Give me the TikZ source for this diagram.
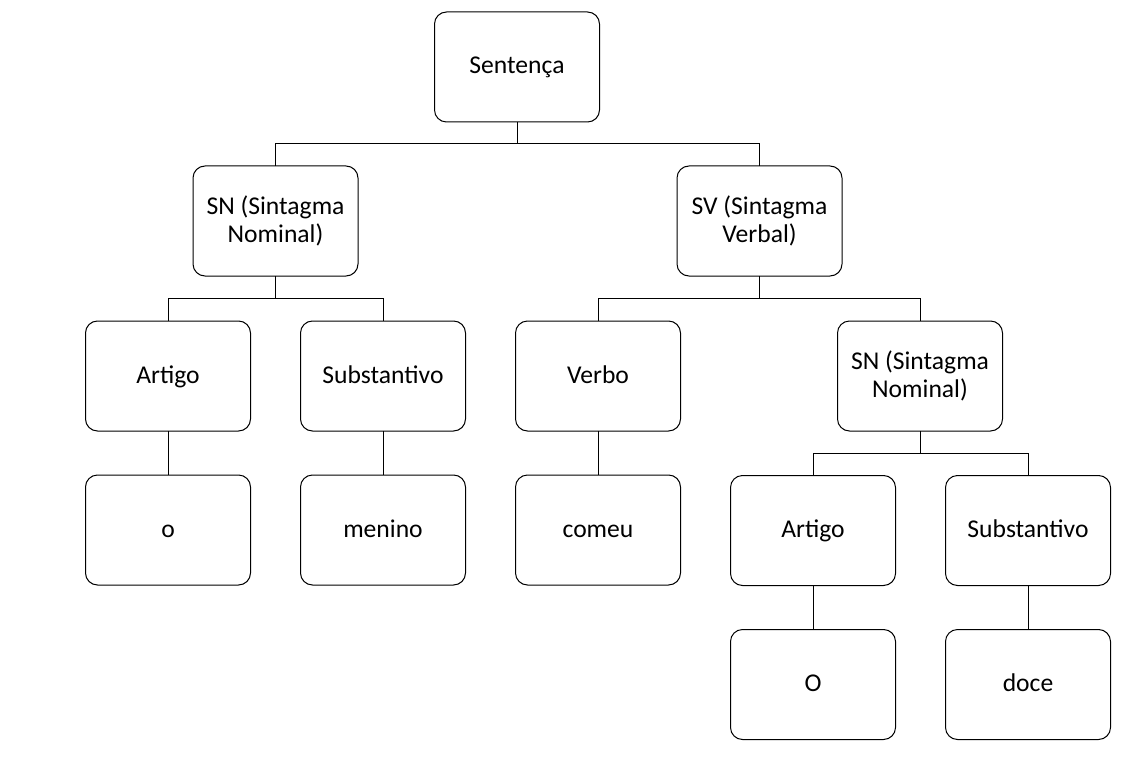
\documentclass[tikz,border=0pt]{standalone}
\usepackage{fontspec}
\setmainfont{Carlito}
\usepackage{tikz}
\usetikzlibrary{positioning}

\begin{document}
\begin{tikzpicture}[%
	x=1pt, y=1pt,
	base/.style={draw=black, line width=1pt, align=center, outer sep=0pt,
		minimum width=165pt, minimum height=110pt, inner sep=4pt,
		font=\fontsize{25.6}{27.5}\selectfont},
	rounded/.style={base, rounded corners=12pt},%
	single/.style={rounded, text height=20pt, text depth=6pt},%
	link/.style={draw=black, line width=1pt}%
	]
	\useasboundingbox (0,0) rectangle (1147,-759);
	%
	% Nodes
	%
	\node[single] (SENT) at (517, -67) {Sentença};
	\node[rounded] (SN) at (275.5, -221) {SN (Sintagma\\ Nominal)};
	\node[rounded] (SV) at (759.5, -221) {SV (Sintagma\\ Verbal)};
	\node[single] (ART) at (168, -376) {Artigo};
	\node[single, right=50pt of ART] (SUBST) {Substantivo};
	\node[single, right=50pt of SUBST] (VERB) {Verbo};
	\node[rounded, right=157pt of VERB] (SNB) {SN (Sintagma\\ Nominal)};
	\node[single, below=44pt of ART] (O) {o};
	\node[single, below=44pt of SUBST] (MENINO) {menino};
	\node[single, below=44pt of VERB] (COMEU) {comeu};
	\node[single] (ARTB) at (813, -530.5) {Artigo};
	\node[single, right=50pt of ARTB] (SUBSTB) {Substantivo};
	\node[single, below=44pt of ARTB] (OB) {O};
	\node[single, below=44pt of SUBSTB] (DOCE) {doce};
	%
	% Connectors
	%
	\path[link] (SENT.south) -- ++(0,-22) -| (SN.north);
	\path[link] (SENT.south) -- ++(0,-22) -| (SV.north);
	\path[link] (SN.south) -- ++(0,-22) -| (ART.north);
	\path[link] (SN.south) -- ++(0,-22) -| (SUBST.north);
	\path[link] (SV.south) -- ++(0,-22) -| (VERB.north);
	\path[link] (SV.south) -- ++(0,-22) -| (SNB.north);
	\path[link] (SNB.south) -- ++(0,-22) -| (ARTB.north);
	\path[link] (SNB.south) -- ++(0,-22) -| (SUBSTB.north);
	\path[link] (ART) -- (O);
	\path[link] (SUBST) -- (MENINO);
	\path[link] (VERB) -- (COMEU);
	\path[link] (ARTB) -- (OB);
	\path[link] (SUBSTB) -- (DOCE);
\end{tikzpicture}
\end{document}
